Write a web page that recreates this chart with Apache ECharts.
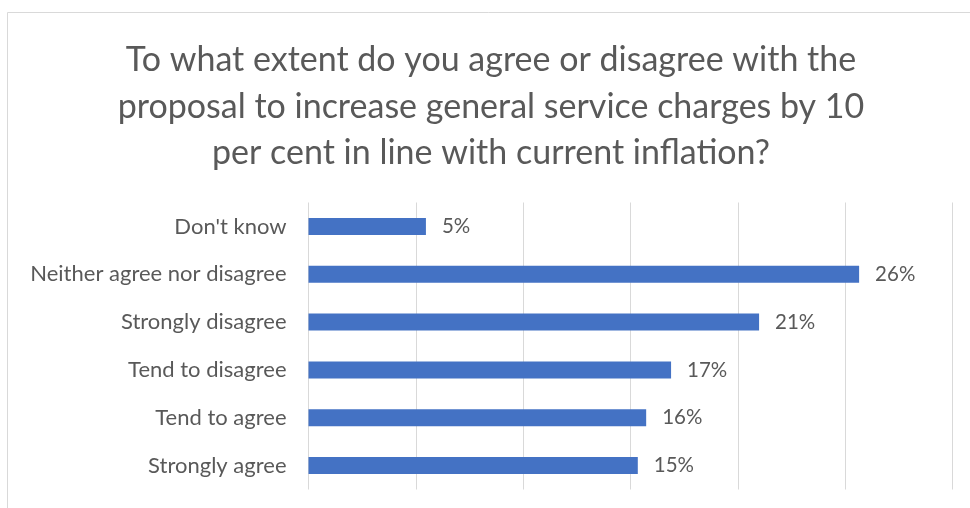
<!DOCTYPE html>
<html>
<head>
<meta charset="utf-8">
<script src="https://cdn.jsdelivr.net/npm/echarts@6/dist/echarts.min.js"></script>
<style>
  html, body { margin: 0; padding: 0; background: #ffffff; }
  #chart { width: 970px; height: 508px; }
</style>
</head>
<body>
<div id="chart"></div>
<script>
// Survey responses, listed bottom-to-top as they sit on the category axis
const categories = [
  'Strongly agree',
  'Tend to agree',
  'Tend to disagree',
  'Strongly disagree',
  'Neither agree nor disagree',
  "Don't know"
];
const shares = [15.34, 15.73, 16.89, 20.99, 25.65, 5.47];

const titleLines = [
  'To what extent do you agree or disagree with the',
  'proposal to increase general service charges by 10',
  'per cent in line with current inflation?'
];

const textColor = '#595959';
const font = 'Lato, "Open Sans", sans-serif';

const chart = echarts.init(document.getElementById('chart'));
chart.setOption({
  animation: false,
  backgroundColor: '#ffffff',
  title: {
    text: titleLines.join('\n'),
    left: 486,
    top: 32,
    textAlign: 'center',
    textStyle: {
      color: textColor,
      fontFamily: font,
      fontSize: 34,
      fontWeight: 'normal',
      lineHeight: 46.5
    }
  },
  graphic: [
    { type: 'line', shape: { x1: 7.5, y1: 12.5, x2: 970, y2: 12.5 }, style: { stroke: '#d9d9d9', lineWidth: 1 } },
    { type: 'line', shape: { x1: 7.5, y1: 12.5, x2: 7.5, y2: 508 }, style: { stroke: '#d9d9d9', lineWidth: 1 } }
  ],
  grid: { left: 308.5, right: 17.5, top: 202.5, bottom: 18.5, containLabel: false },
  xAxis: {
    type: 'value',
    min: 0,
    max: 30,
    interval: 5,
    axisLabel: { show: false },
    axisTick: { show: false },
    axisLine: { show: false },
    splitLine: { show: true, lineStyle: { color: '#d9d9d9', width: 1 } }
  },
  yAxis: {
    type: 'category',
    data: categories,
    axisTick: { show: false },
    axisLine: { show: false },
    axisLabel: { color: textColor, fontFamily: font, fontSize: 22, margin: 22 }
  },
  series: [{
    type: 'bar',
    data: shares,
    barWidth: 17,
    itemStyle: { color: '#4472c4' },
    label: {
      show: true,
      position: 'right',
      distance: 16,
      color: textColor,
      fontFamily: font,
      fontSize: 20.5,
      formatter: p => Math.round(p.value) + '%'
    }
  }]
});
</script>
</body>
</html>
